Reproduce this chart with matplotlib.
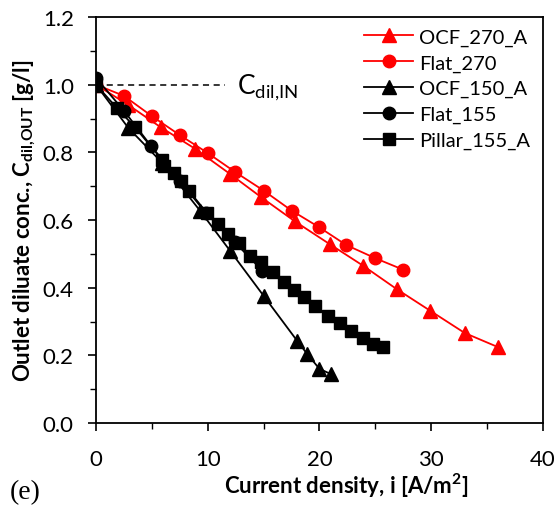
import matplotlib
matplotlib.use("Agg")
import matplotlib.pyplot as plt
from matplotlib.ticker import MultipleLocator, FormatStrFormatter

plt.rcParams['font.family'] = ['Lato', 'DejaVu Sans']
plt.rcParams['mathtext.fontset'] = 'custom'
plt.rcParams['mathtext.rm'] = 'Lato'
plt.rcParams['mathtext.bf'] = 'Lato:bold'

# Data
ocf270_x = [0, 2.9, 5.8, 8.9, 12.0, 14.8, 17.8, 20.9, 23.9, 26.9, 29.9, 33.0, 36.0]
ocf270_y = [1.0, 0.94, 0.874, 0.81, 0.736, 0.667, 0.596, 0.529, 0.465, 0.396, 0.332, 0.266, 0.224]

flat270_x = [0, 2.5, 5.0, 7.5, 10.0, 12.4, 15.0, 17.5, 20.0, 22.4, 25.0, 27.5]
flat270_y = [1.0, 0.967, 0.907, 0.851, 0.798, 0.743, 0.687, 0.628, 0.578, 0.526, 0.487, 0.453]

ocf150_x = [0, 2.9, 5.9, 9.3, 12.0, 15.0, 18.0, 18.9, 20.0, 21.0]
ocf150_y = [1.0, 0.872, 0.77, 0.628, 0.509, 0.376, 0.243, 0.204, 0.16, 0.145]

flat155_x = [0, 2.5, 4.9, 7.5, 9.8, 12.4, 14.9]
flat155_y = [1.02, 0.923, 0.82, 0.716, 0.622, 0.535, 0.45]

pillar_x = [0, 1.9, 3.5, 5.9, 6.1, 7.0, 7.6, 8.3, 9.9, 10.9, 11.8, 12.8, 13.8, 14.8,
            15.8, 16.8, 17.7, 18.6, 19.6, 20.8, 21.8, 22.8, 23.9, 24.8, 25.7]
pillar_y = [1.0, 0.93, 0.874, 0.778, 0.76, 0.74, 0.716, 0.687, 0.622, 0.588, 0.559, 0.532,
            0.494, 0.475, 0.445, 0.418, 0.394, 0.372, 0.347, 0.315, 0.296, 0.273, 0.25,
            0.234, 0.224]

cin_x = [0, 11.5]
cin_y = [1.0, 1.0]

fig = plt.figure(figsize=(5.59, 5.06), dpi=100)
ax = fig.add_axes([0.1717, 0.162, 0.7997, 0.8024])

lw = 1.3
ms = 9
ax.plot(cin_x, cin_y, color='black', linestyle=(0, (4, 3)), linewidth=1.1, zorder=1)
ax.plot(ocf270_x, ocf270_y, color='red', marker='^', markersize=ms + 1, linewidth=lw, label='OCF_270_A')
ax.plot(flat270_x, flat270_y, color='red', marker='o', markersize=ms, linewidth=lw, label='Flat_270')
ax.plot(ocf150_x, ocf150_y, color='black', marker='^', markersize=ms + 1, linewidth=lw, label='OCF_150_A')
ax.plot(flat155_x, flat155_y, color='black', marker='o', markersize=ms, linewidth=lw, label='Flat_155')
ax.plot(pillar_x, pillar_y, color='black', marker='s', markersize=ms - 1, linewidth=lw, label='Pillar_155_A')

ax.text(12.6, 0.995, r'C$_{\mathrm{dil{,}IN}}$', fontsize=19, va='center', ha='left')

ax.set_xlim(0, 40)
ax.set_ylim(0, 1.2)
ax.xaxis.set_major_locator(MultipleLocator(10))
ax.xaxis.set_minor_locator(MultipleLocator(5))
ax.yaxis.set_major_locator(MultipleLocator(0.2))
ax.yaxis.set_minor_locator(MultipleLocator(0.1))
ax.yaxis.set_major_formatter(FormatStrFormatter('%.1f'))
ax.tick_params(which='major', direction='out', length=6, width=1.2, labelsize=16,
               top=False, right=False)
ax.tick_params(axis='x', which='major', pad=13)
ax.tick_params(axis='y', which='major', pad=10)
ax.tick_params(which='minor', direction='out', length=4.5, width=1.0, top=False, right=False)
for s in ax.spines.values():
    s.set_linewidth(1.3)

ax.set_xlabel(r'Current density, i [A/m$^{\mathbf{2}}$]', fontsize=16, fontweight='bold', va='center')
ax.xaxis.set_label_coords(0.559, -0.152)
ax.set_ylabel(r'Outlet diluate conc., C$_{\mathbf{dil{,}OUT}}$ [g/l]', fontsize=16, fontweight='bold', labelpad=3)

ax.legend(loc='upper right', frameon=False, fontsize=14.5, handlelength=2.4, handletextpad=0.3,
          labelspacing=0.42, borderaxespad=0.0, borderpad=0.1, bbox_to_anchor=(0.975, 0.977))

fig.text(0.018, 0.014, '(e)', fontsize=20, family='Liberation Serif')

fig.savefig('out.png', dpi=100)
